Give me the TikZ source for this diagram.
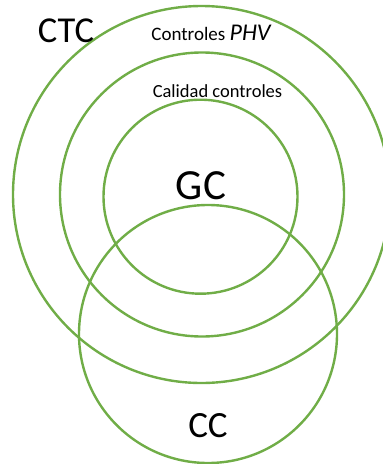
\documentclass[tikz,border=0pt]{standalone}
\usepackage{fontspec}
\setmainfont{Carlito}
\definecolor{ringgreen}{RGB}{112,173,71}
\begin{document}
\begin{tikzpicture}[x=1pt,y=-1pt,
  ring/.style={draw=ringgreen,line width=2.4pt},
  lbl/.style={anchor=base,inner sep=0pt,text=black}]
\useasboundingbox (0,0) rectangle (383,464);
\clip (0,0) rectangle (383,464);
\draw[ring] (201.5,194.5) circle[radius=188.5];
\draw[ring] (202,194.5) circle[radius=142];
\draw[ring] (200.5,196.7) circle[radius=97];
\draw[ring] (208,334) circle[radius=129];
\node[lbl,font=\fontsize{36.5}{40}\selectfont] (ctc) at (66,42) {CTC};
\node[lbl,font=\fontsize{19}{22}\selectfont] (phv) at (211,40.7) {Controles \fontsize{24}{28}\selectfont\itshape PHV};
\node[lbl,font=\fontsize{18.5}{22}\selectfont] (cal) at (217.5,97) {Calidad controles};
\node[lbl,font=\fontsize{43}{48}\selectfont] (gc) at (201,199) {GC};
\node[lbl,font=\fontsize{37}{42}\selectfont] (cc) at (208,437) {CC};
\end{tikzpicture}
\end{document}
